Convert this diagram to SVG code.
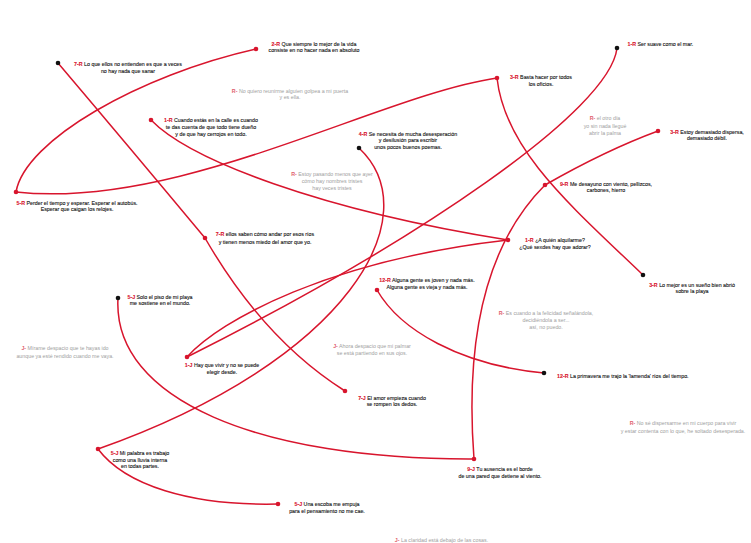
<svg xmlns="http://www.w3.org/2000/svg" width="751" height="543" viewBox="0 0 751 543">
<style>
text{font-family:"Liberation Sans",Arial,sans-serif;font-size:5.3px;fill:#111;stroke:#111;stroke-width:0.1;text-anchor:middle}
.g{fill:#a0a0a0;stroke:none}
.l{fill:#d8152d;stroke:#d8152d;font-weight:bold}
.gl{fill:#e0606e;stroke:none;font-weight:bold}
.c{fill:none;stroke:#d8152d;stroke-width:1.5;stroke-linecap:round}
.rd{fill:#d8152d}
.bd{fill:#111}
</style>
<rect width="751" height="543" fill="#fff"/>
<g id="connectors">
<path class="c" d="M58,63 Q130,148 205,238"/>
<path class="c" d="M205,238 C235,290 280,350 345,391"/>
<path class="c" d="M16,192 C25,140 140,75 256,49"/>
<path class="c" d="M16,192 C180,210 380,95 497,78"/>
<path class="c" d="M497,78 C505,150 570,205 643,275"/>
<path class="c" d="M617,48 C610,110 420,240 187,357"/>
<path class="c" d="M187,357 C220,320 330,260 508,240"/>
<path class="c" d="M151,120 C190,160 320,210 508,240"/>
<path class="c" d="M359,148 C430,215 350,360 98,449"/>
<path class="c" d="M98,449 C125,485 190,506 278,504"/>
<path class="c" d="M118,298 C112,400 260,460 474,459"/>
<path class="c" d="M474,459 C468,380 470,260 545,185"/>
<path class="c" d="M545,185 C580,165 620,145 658,131"/>
<path class="c" d="M377,290 C400,330 460,365 544,373"/>
</g>
<g id="n1"><circle class="bd" cx="58" cy="63" r="2.3"/><text x="128" y="66"><tspan class="l">7-R</tspan> Lo que ellos no entienden es que a veces</text><text x="128" y="73">no hay nada que sanar</text></g>
<g id="n2"><circle class="rd" cx="256" cy="49" r="2.3"/><text x="314" y="45.5"><tspan class="l">2-R</tspan> Que siempre lo mejor de la vida</text><text x="314" y="51.5">consiste en no hacer nada en absoluto</text></g>
<g id="n3"><text class="g" x="290" y="92.5"><tspan class="gl">R-</tspan> No quiero reunirme alguien golpea a mi puerta</text><text class="g" x="290" y="98.5">y es ella.</text></g>
<g id="n4"><circle class="rd" cx="151" cy="120" r="2.3"/><text x="211" y="122"><tspan class="l">1-R</tspan> Cuando estás en la calle es cuando</text><text x="211" y="129">te das cuenta de que todo tiene dueño</text><text x="211" y="136">y de que hay cerrojos en todo.</text></g>
<g id="n5"><circle class="rd" cx="497" cy="78" r="2.3"/><text x="541" y="79"><tspan class="l">3-R</tspan> Basta hacer por todos</text><text x="541" y="86">los oficios.</text></g>
<g id="n6"><circle class="bd" cx="617" cy="48" r="2.3"/><text x="627.5" y="45.5" style="text-anchor:start"><tspan class="l">1-R</tspan> Ser suave como el mar.</text></g>
<g id="n7"><text class="g" x="605" y="120"><tspan class="gl">R-</tspan> el otro día</text><text class="g" x="605" y="127.5">yo sin nada llegué</text><text class="g" x="605" y="135">abrir la palma</text></g>
<g id="n8"><circle class="rd" cx="658" cy="131" r="2.3"/><text x="707" y="133.5"><tspan class="l">3-R</tspan> Estoy demasiado dispersa,</text><text x="707" y="139.5">demasiado débil.</text></g>
<g id="n9"><circle class="rd" cx="545" cy="185" r="2.3"/><text x="606" y="186"><tspan class="l">9-R</tspan> Me desayuno con viento, pellizcos,</text><text x="606" y="192">carbones, hierro</text></g>
<g id="n10"><circle class="bd" cx="359" cy="148" r="2.3"/><text x="408" y="135.5"><tspan class="l">4-R</tspan> Se necesita de mucha desesperación</text><text x="408" y="142">y desilusión para escribir</text><text x="408" y="148.5">unos pocos buenos poemas.</text></g>
<g id="n11"><text class="g" x="332" y="176"><tspan class="gl">R-</tspan> Estoy pasando menos que ayer</text><text class="g" x="332" y="183">cómo hay nombres tristes</text><text class="g" x="332" y="190">hay veces tristes</text></g>
<g id="n12"><circle class="rd" cx="16" cy="192" r="2.3"/><text x="77" y="204.5"><tspan class="l">5-R</tspan> Perder el tiempo y esperar. Esperar el autobús.</text><text x="77" y="211">Esperar que caigan los relojes.</text></g>
<g id="n13"><circle class="rd" cx="205" cy="238" r="2.3"/><text x="265" y="236"><tspan class="l">7-R</tspan> ellos saben cómo andar por esos ríos</text><text x="265" y="243.5">y tienen menos miedo del amor que yo.</text></g>
<g id="n14"><circle class="rd" cx="508" cy="240" r="2.3"/><text x="555" y="242"><tspan class="l">1-R</tspan> ¿A quién alquilarme?</text><text x="555" y="249">¿Qué sexdes hay que adorar?</text></g>
<g id="n15"><circle class="rd" cx="377" cy="290" r="2.3"/><text x="427" y="282"><tspan class="l">12-R</tspan> Alguna gente es joven y nada más.</text><text x="427" y="289">Alguna gente es vieja y nada más.</text></g>
<g id="n16"><circle class="bd" cx="643" cy="275" r="2.3"/><text x="692" y="286.5"><tspan class="l">3-R</tspan> Lo mejor es un sueño bien abrió</text><text x="692" y="293">sobre la playa</text></g>
<g id="n17"><circle class="bd" cx="118" cy="298" r="2.3"/><text x="160" y="298.5"><tspan class="l">5-J</tspan> Solo el piso de mi playa</text><text x="160" y="305">me sostiene en el mundo.</text></g>
<g id="n18"><text class="g" x="546" y="315"><tspan class="gl">R-</tspan> Es cuando a la felicidad señalándola,</text><text class="g" x="546" y="322">decidiéndola a ser...</text><text class="g" x="546" y="328.5">así, no puedo.</text></g>
<g id="n19"><text class="g" x="65" y="350"><tspan class="gl">J-</tspan> Mírame despacio que te hayas ido</text><text class="g" x="65" y="357.5">aunque ya esté rendido cuando me vaya.</text></g>
<g id="n20"><circle class="rd" cx="187" cy="357" r="2.3"/><text x="222" y="367"><tspan class="l">1-J</tspan> Hay que vivir y no se puede</text><text x="222" y="373.5">elegir desde.</text></g>
<g id="n21"><text class="g" x="372" y="347.5"><tspan class="gl">J-</tspan> Ahora despacio que mi palmar</text><text class="g" x="372" y="354.5">se está partiendo en sus ojos.</text></g>
<g id="n22"><circle class="bd" cx="544" cy="373" r="2.3"/><text x="557" y="377.5" style="text-anchor:start"><tspan class="l">12-R</tspan> La primavera me trajo la 'lamenda' ríos del tiempo.</text></g>
<g id="n23"><circle class="rd" cx="345" cy="391" r="2.3"/><text x="392" y="399.5"><tspan class="l">7-J</tspan> El amor empieza cuando</text><text x="392" y="406">se rompen los dedos.</text></g>
<g id="n24"><text class="g" x="683" y="425"><tspan class="gl">R-</tspan> No sé dispersarme en mi cuerpo para vivir</text><text class="g" x="683" y="433">y estar contenta con lo que, he soltado desesperada.</text></g>
<g id="n25"><circle class="rd" cx="98" cy="449" r="2.3"/><text x="140" y="455"><tspan class="l">5-J</tspan> Mi palabra es trabajo</text><text x="140" y="461.5">como una lluvia interna</text><text x="140" y="468">en todas partes.</text></g>
<g id="n26"><circle class="rd" cx="474" cy="459" r="2.3"/><text x="500" y="471"><tspan class="l">9-J</tspan> Tu ausencia es el borde</text><text x="500" y="478">de una pared que detiene al viento.</text></g>
<g id="n27"><circle class="rd" cx="278" cy="504" r="2.3"/><text x="327" y="506"><tspan class="l">5-J</tspan> Una escoba me empuja</text><text x="327" y="512.5">para el pensamiento no me cae.</text></g>
<g id="n28"><text class="g" x="441.5" y="542"><tspan class="gl">J-</tspan> La claridad está debajo de las cosas.</text></g>
</svg>
